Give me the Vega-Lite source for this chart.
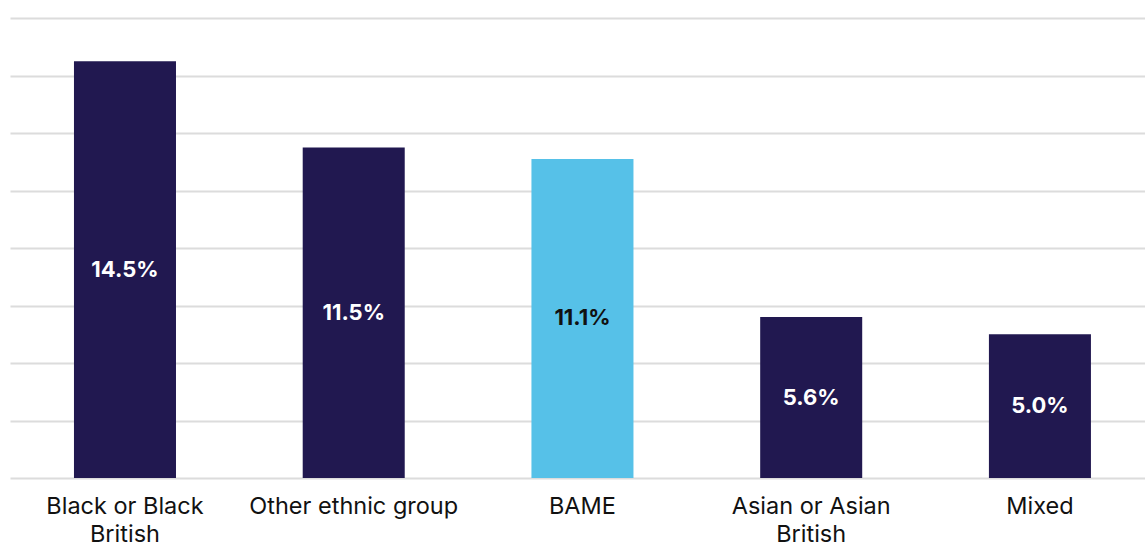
{
  "$schema": "https://vega.github.io/schema/vega-lite/v6.json",
  "width": 1135,
  "height": 460,
  "autosize": {"type": "none"},
  "padding": {"left": 10, "top": 18, "right": 0, "bottom": 65},
  "background": "#ffffff",
  "config": {
    "view": {"stroke": null},
    "font": "Inter"
  },
  "data": {
    "values": [
      {"group": "Black or Black British", "value": 14.5, "highlight": false},
      {"group": "Other ethnic group", "value": 11.5, "highlight": false},
      {"group": "BAME", "value": 11.1, "highlight": true},
      {"group": "Asian or Asian British", "value": 5.6, "highlight": false},
      {"group": "Mixed", "value": 5.0, "highlight": false}
    ]
  },
  "transform": [
    {"calculate": "datum.value / 2", "as": "mid"},
    {"calculate": "format(datum.value, '.1f') + '%'", "as": "label"}
  ],
  "encoding": {
    "x": {
      "field": "group",
      "type": "nominal",
      "sort": null,
      "scale": {"paddingInner": 0.554, "paddingOuter": 0.258, "align": 0.542},
      "axis": {
        "title": null,
        "labelAngle": 0,
        "ticks": false,
        "domain": false,
        "labelFontSize": 23.5,
        "labelColor": "#111111",
        "labelPadding": 16,
        "labelLineHeight": 28,
        "labelBaseline": "top",
        "labelLimit": 400,
        "labelExpr": "datum.label == 'Black or Black British' ? ['Black or Black', 'British'] : datum.label == 'Asian or Asian British' ? ['Asian or Asian', 'British'] : datum.label"
      }
    }
  },
  "layer": [
    {
      "mark": {"type": "bar"},
      "encoding": {
        "y": {
          "field": "value",
          "type": "quantitative",
          "scale": {"domain": [0, 16], "nice": false},
          "axis": {
            "title": null,
            "values": [0, 2, 4, 6, 8, 10, 12, 14, 16],
            "labels": false,
            "ticks": false,
            "domain": false,
            "grid": true,
            "gridColor": "#dcdcdc",
            "gridWidth": 2
          }
        },
        "color": {
          "field": "highlight",
          "type": "nominal",
          "scale": {"domain": [false, true], "range": ["#211850", "#56c1e8"]},
          "legend": null
        }
      }
    },
    {
      "mark": {"type": "text", "fontSize": 22, "fontWeight": "bold", "baseline": "middle", "align": "center"},
      "encoding": {
        "y": {"field": "mid", "type": "quantitative"},
        "text": {"field": "label"},
        "color": {
          "condition": {"test": "datum.highlight", "value": "#111111"},
          "value": "#ffffff"
        }
      }
    }
  ]
}
